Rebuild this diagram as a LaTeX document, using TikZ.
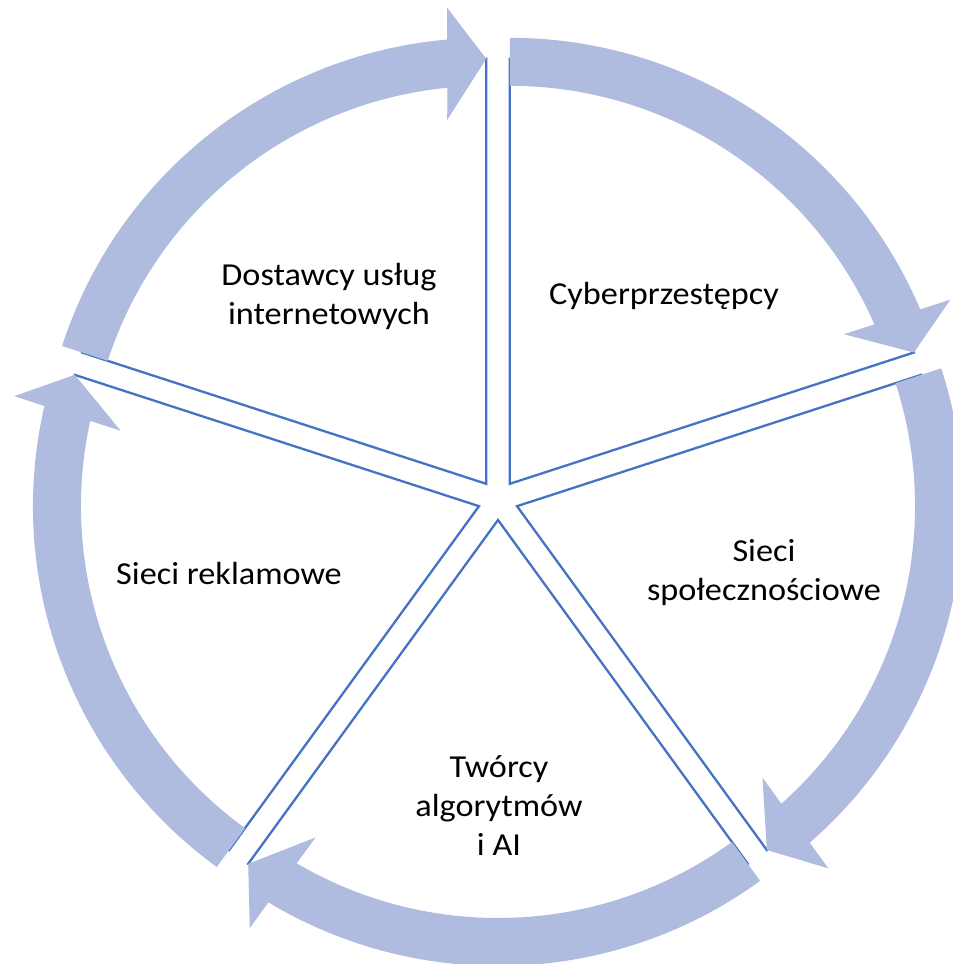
\documentclass[tikz,border=0pt]{standalone}
\usepackage{fontspec}
\setmainfont{Carlito}[FakeStretch=1.07]
\definecolor{edgeblue}{HTML}{4472C4}
\definecolor{arrowfill}{HTML}{AFBCE0}
\newcommand{\segarrow}[2]{%
  % #1: apex of the segment, #2: angle at which the arrow tip sits
  \begin{scope}[shift={(#1)}, rotate=#2]
    \fill[arrowfill] (72:446) arc[start angle=72, end angle=5.02, radius=446]
      -- (476,39) -- (425,0) -- (364,39)
      -- (5.62:398) arc[start angle=5.62, end angle=72, radius=398] -- cycle;
  \end{scope}}
\newcommand{\segwedge}[2]{%
  % #1: apex, #2: start angle; each wedge spans 72 degrees
  \filldraw[wedge] (#1) -- ++(#2:425) arc[start angle=#2, delta angle=72, radius=425] -- cycle;}
\begin{document}
\begin{tikzpicture}[x=1pt, y=1pt,
  wedge/.style={draw=edgeblue, fill=white, line width=2.3pt, line join=miter},
  label/.style={font=\fontsize{32}{39}\selectfont, align=center, inner sep=0pt}]
\useasboundingbox (-498,-464) rectangle (455,500);
% apexes of the five segments, pushed out from the centre along their bisectors
\coordinate (aDost) at (126:20);
\coordinate (aCyber) at (54:20);
\coordinate (aSpol) at (-18:20);
\coordinate (aTworcy) at (-90:20);
\coordinate (aRekl) at (198:20);
% segments
\segwedge{aDost}{90}
\segwedge{aCyber}{18}
\segwedge{aSpol}{-54}
\segwedge{aTworcy}{-126}
\segwedge{aRekl}{162}
% circular arrows, clockwise
\segarrow{aDost}{90}
\segarrow{aCyber}{18}
\segarrow{aSpol}{-54}
\segarrow{aTworcy}{-126}
\segarrow{aRekl}{162}
% labels
\node[label] (tDost) at (-169,204) {Dostawcy usług\\internetowych};
\node[label] (tCyber) at (166,204) {Cyberprzestępcy};
\node[label] (tSpol) at (266,-73) {Sieci\\społecznościowe};
\node[label] (tTworcy) at (1,-306) {Twórcy\\algorytmów\\i AI};
\node[label] (tRekl) at (-269,-74) {Sieci reklamowe};
\end{tikzpicture}
\end{document}
